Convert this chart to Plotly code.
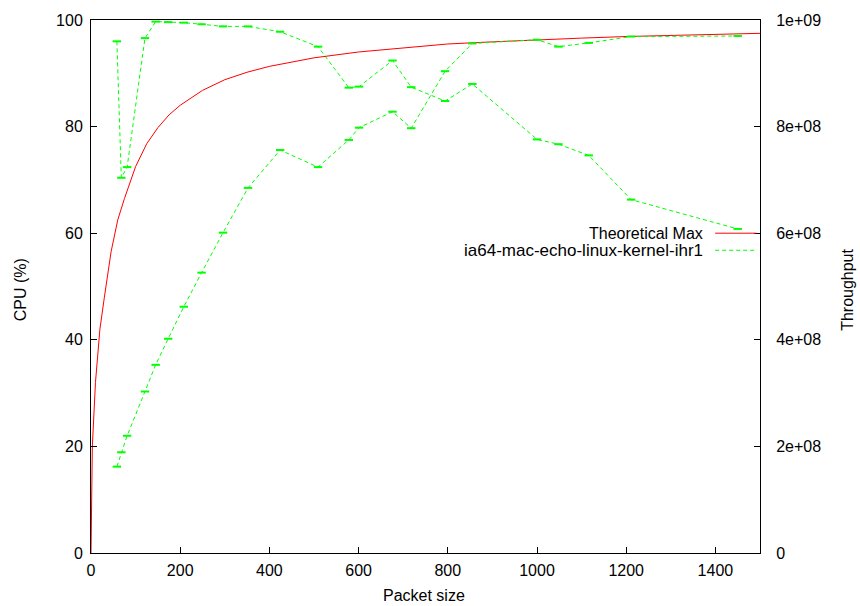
import plotly.graph_objects as go

# ---- data ----
packet_size = [58, 68, 81, 121, 145, 173, 208, 248, 296, 352, 424, 509, 578, 601,
               676, 718, 794, 855, 1000, 1048, 1116, 1211, 1450]
cpu_pct = [96.0, 70.4, 72.4, 96.6, 99.7, 99.6, 99.5, 99.2, 98.8, 98.8, 97.8, 95.0,
           87.3, 87.5, 92.4, 87.4, 84.8, 88.0, 77.6, 76.7, 74.6, 66.3, 60.8]
throughput = [1.62e8, 1.89e8, 2.20e8, 3.03e8, 3.53e8, 4.02e8, 4.62e8, 5.26e8, 6.01e8,
              6.85e8, 7.56e8, 7.24e8, 7.75e8, 7.98e8, 8.28e8, 7.97e8, 9.04e8, 9.56e8,
              9.63e8, 9.50e8, 9.57e8, 9.69e8, 9.70e8]

theo_x = [0, 3, 10, 20, 30, 45, 60, 75, 100, 125, 150, 175, 200, 250, 300, 350, 400,
          500, 600, 700, 800, 900, 1000, 1100, 1200, 1300, 1400, 1500]
theo_max = [0.0, 2.0e8, 3.2e8, 4.2e8, 4.8e8, 5.65e8, 6.25e8, 6.65e8, 7.25e8, 7.68e8,
            7.98e8, 8.22e8, 8.40e8, 8.68e8, 8.88e8, 9.02e8, 9.13e8, 9.29e8, 9.40e8,
            9.48e8, 9.55e8, 9.59e8, 9.63e8, 9.66e8, 9.69e8, 9.71e8, 9.73e8, 9.75e8]

x_ticks = [0, 200, 400, 600, 800, 1000, 1200, 1400]
y_ticks = [0, 20, 40, 60, 80, 100]
y2_ticks = [0, 2e8, 4e8, 6e8, 8e8, 1e9]
y2_labels = ["0", "2e+08", "4e+08", "6e+08", "8e+08", "1e+09"]

series_names = ["Theoretical Max", "ia64-mac-echo-linux-kernel-ihr1"]

RED = "#ff0000"
GREEN = "#00ff00"
FONT = "Liberation Sans"
FS = 16

fig = go.Figure()
fig.add_trace(go.Scatter(x=theo_x, y=theo_max, mode="lines", yaxis="y2",
                         line=dict(color=RED, width=1), name=series_names[0],
                         showlegend=False))
fig.add_trace(go.Scatter(x=packet_size, y=cpu_pct, mode="lines+markers",
                         line=dict(color=GREEN, width=1, dash="4px,3px"),
                         marker=dict(symbol="line-ew", size=6,
                                     line=dict(color=GREEN, width=2)),
                         name=series_names[1], showlegend=False))
fig.add_trace(go.Scatter(x=packet_size, y=throughput, mode="lines+markers", yaxis="y2",
                         line=dict(color=GREEN, width=1, dash="4px,3px"),
                         marker=dict(symbol="line-ew", size=6,
                                     line=dict(color=GREEN, width=2)),
                         name=series_names[1], showlegend=False))

# manual gnuplot-style legend (text left of sample)
leg_y = [0.600, 0.568]
leg_fs = [16, 17]
leg_colors = [RED, GREEN]
leg_dash = ["solid", "4px,3px"]
for i in range(2):
    fig.add_annotation(xref="paper", yref="paper", x=0.918, y=leg_y[i],
                       text=series_names[i], showarrow=False, xanchor="right",
                       yanchor="middle",
                       font=dict(family=FONT, size=leg_fs[i], color="black"))
    fig.add_shape(type="line", xref="paper", yref="paper", x0=0.933, x1=0.995,
                  y0=leg_y[i], y1=leg_y[i],
                  line=dict(color=leg_colors[i], width=1, dash=leg_dash[i]))

# axis titles as annotations for exact placement
fig.add_annotation(xref="paper", yref="paper", x=0.498, y=-0.079, text="Packet size",
                   showarrow=False, xanchor="center", yanchor="middle",
                   font=dict(family=FONT, size=FS, color="black"))
fig.add_annotation(xref="paper", yref="paper", x=-0.106, y=0.493, text="CPU (%)",
                   showarrow=False, xanchor="center", yanchor="middle", textangle=-90,
                   font=dict(family=FONT, size=FS, color="black"))
fig.add_annotation(xref="paper", yref="paper", x=1.131, y=0.493, text="Throughput",
                   showarrow=False, xanchor="center", yanchor="middle", textangle=-90,
                   font=dict(family=FONT, size=FS, color="black"))

axis_common = dict(showline=True, linecolor="black", linewidth=1, ticks="inside",
                   ticklen=6, tickcolor="black", showgrid=False, zeroline=False,
                   automargin=False,
                   tickfont=dict(family=FONT, size=FS, color="black"))

fig.update_layout(
    width=860, height=606,
    margin=dict(l=91, r=100, t=20, b=53),
    paper_bgcolor="white", plot_bgcolor="white",
    font=dict(family=FONT, size=FS, color="black"),
    xaxis=dict(range=[0, 1500], tickvals=x_ticks, mirror=True,
               ticklabelstandoff=3, **axis_common),
    yaxis=dict(range=[0, 100], tickvals=y_ticks, ticklabelstandoff=4, **axis_common),
    yaxis2=dict(range=[0, 1e9], tickvals=y2_ticks, ticktext=y2_labels,
                overlaying="y", side="right", ticklabelstandoff=12, **axis_common),
    showlegend=False,
)

fig.write_html("out.html", config={"displayModeBar": False},
               post_script="document.body.style.margin='0';document.body.style.overflow='hidden';")
